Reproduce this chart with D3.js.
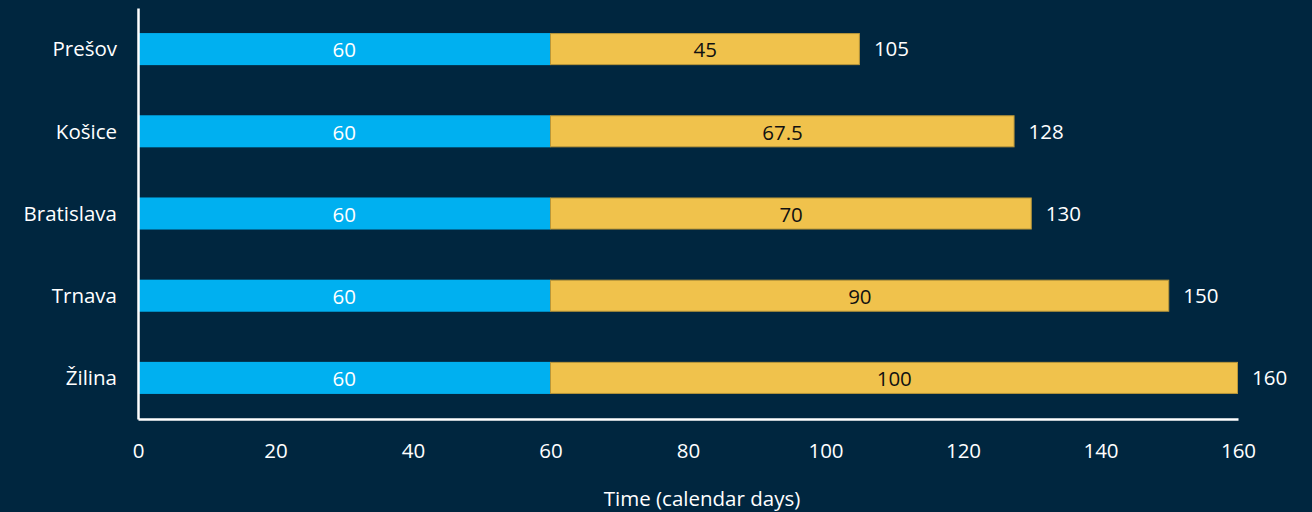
<!DOCTYPE html>
<html><head><meta charset="utf-8">
<script src="https://cdn.jsdelivr.net/npm/d3@7"></script>
<style>
html,body{margin:0;padding:0;background:#00263F;}
svg{display:block;}
text{font-family:"Open Sans","Noto Sans",sans-serif;}
</style></head>
<body>
<script>
const categories = ["Prešov","Košice","Bratislava","Trnava","Žilina"];
const baseValues = [60,60,60,60,60];
const extraValues = [45,67.5,70,90,100];
const totalLabels = ["105","128","130","150","160"];
const xTicks = [0,20,40,60,80,100,120,140,160];
const xTitle = "Time (calendar days)";

(function(){
const W=1312,H=512,FS=20.5;
const mLeft=138,mRight=1238,mTop=8,mBottom=419;
const svg=d3.select("body").append("svg").attr("width",W).attr("height",H);
svg.append("rect").attr("width",W).attr("height",H).attr("fill","#00263F");

const x=d3.scaleLinear().domain([0,160]).range([mLeft,mRight]);
const y=d3.scaleBand().domain(categories).range([mTop,mBottom]).paddingInner(0.61).paddingOuter(0.305);

const g=svg.append("g");
categories.forEach((c,i)=>{
  const b=baseValues[i], e=extraValues[i];
  g.append("rect").attr("x",x(0)).attr("y",y(c)).attr("width",x(b)-x(0)).attr("height",y.bandwidth()).attr("fill","#00B0F0");
  g.append("rect").attr("x",x(b)).attr("y",y(c)+0.5).attr("width",x(b+e)-x(b)-0.5).attr("height",y.bandwidth()-1)
    .attr("fill","#F0C24C").attr("stroke","#B8963A").attr("stroke-width",1);
  const cy=y(c)+y.bandwidth()/2;
  g.append("text").attr("x",(x(0)+x(b))/2).attr("y",cy+1).attr("dy","0.36em").attr("text-anchor","middle")
    .attr("fill","#fff").attr("font-size",FS).text(b);
  g.append("text").attr("x",(x(b)+x(b+e))/2).attr("y",cy+1).attr("dy","0.36em").attr("text-anchor","middle")
    .attr("fill","#111").attr("font-size",FS).text(e);
  g.append("text").attr("x",x(b+e)+14).attr("y",cy).attr("dy","0.36em").attr("text-anchor","start")
    .attr("fill","#fff").attr("font-size",FS).text(totalLabels[i]);
  g.append("text").attr("x",117).attr("y",cy).attr("dy","0.36em").attr("text-anchor","end")
    .attr("fill","#fff").attr("font-size",FS).text(c);
});

const xAxis=d3.axisBottom(x).tickValues(xTicks).tickSize(0).tickPadding(24);
const xa=svg.append("g").attr("transform",`translate(0,${mBottom})`).call(xAxis);
xa.select(".domain").attr("stroke","#fff").attr("stroke-width",2.5);
xa.selectAll("text").attr("fill","#fff").attr("font-size",FS).attr("font-family","'Open Sans','Noto Sans',sans-serif");

const yAxis=d3.axisLeft(y).tickSize(0).tickFormat("");
const ya=svg.append("g").attr("transform",`translate(${mLeft},0)`).call(yAxis);
ya.select(".domain").attr("stroke","#fff").attr("stroke-width",2.5);

svg.append("text").attr("x",(mLeft+mRight)/2+14).attr("y",499).attr("dy","0.36em").attr("text-anchor","middle")
  .attr("fill","#fff").attr("font-size",FS).text(xTitle);
})();
</script>
</body></html>
